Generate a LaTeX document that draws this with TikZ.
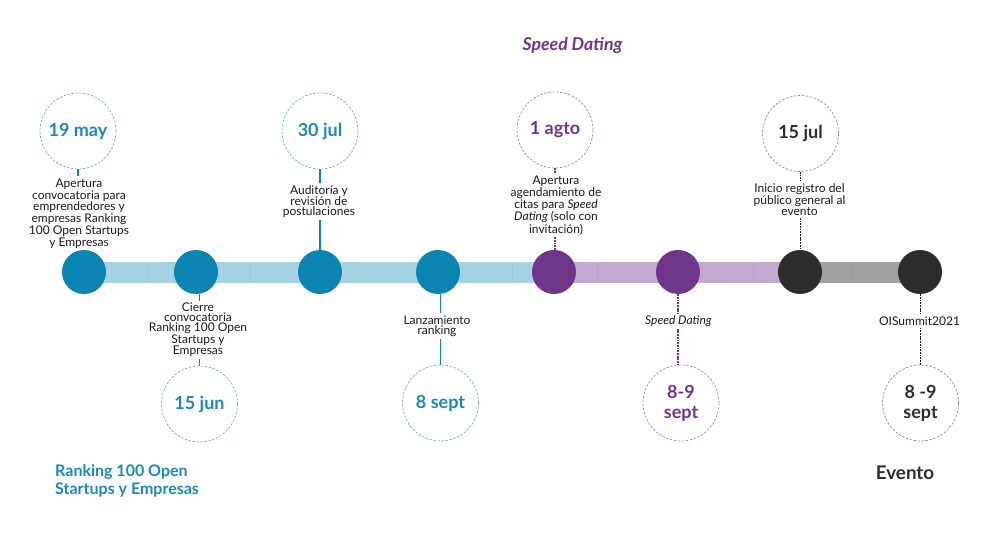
\documentclass[tikz,border=0pt]{standalone}
\usepackage{fontspec}
\setmainfont{Lato}
\definecolor{dotblue}{HTML}{0A84B1}
\definecolor{txtblue}{HTML}{1A8BB6}
\definecolor{barblue}{HTML}{A6D3E3}
\definecolor{ringblue}{HTML}{6DB3CF}
\definecolor{dotpurple}{HTML}{6E3589}
\definecolor{barpurple}{HTML}{C4A9CF}
\definecolor{ringpurple}{HTML}{A88AB8}
\definecolor{dotdark}{HTML}{2D2D2D}
\definecolor{bargray}{HTML}{A0A0A0}
\definecolor{ringgray}{HTML}{8E8E8E}
\definecolor{ink}{HTML}{1A1A1A}
\begin{document}
\begin{tikzpicture}[x=1pt,y=-1pt,
  ring/.style={circle,draw,line width=0.7pt,dash pattern=on 2.4pt off 1.6pt,
    minimum size=76pt,inner sep=0pt,align=center,
    font=\fontsize{18}{20}\selectfont\bfseries},
  dot/.style={circle,minimum size=44pt,inner sep=0pt},
  note/.style={align=center,inner sep=2pt,text=ink,
    font=\fontsize{12}{9.8}\selectfont},
  bluelink/.style={draw=dotblue,line width=1.8pt},
  dashlink/.style={line width=1.9pt,dash pattern=on 1.8pt off 0.9pt}]
   \useasboundingbox (0,0) rectangle (1000,534);
   % bar
   \fill [barblue] (84,262.5) rectangle (554,283.5);
   \fill [barpurple] (554,262.5) rectangle (800,283.5);
   \fill [bargray] (800,262.5) rectangle (920,283.5);
   \foreach \x in {147,250,512} \draw [barblue!95!black,line width=0.4pt] (\x,262.5)--(\x,283.5);
   \foreach \x in {597,753} \draw [barpurple!95!black,line width=0.4pt] (\x,262.5)--(\x,283.5);
   \draw [bargray!95!black,line width=0.4pt] (851,262.5)--(851,283.5);
   % dots on the bar
   \node [dot,fill=dotblue] (b1) at (84,272) {};
   \node [dot,fill=dotblue] (b2) at (196,272) {};
   \node [dot,fill=dotblue] (b3) at (320,272) {};
   \node [dot,fill=dotblue] (b4) at (438,272) {};
   \node [dot,fill=dotpurple] (b5) at (554,272) {};
   \node [dot,fill=dotpurple] (b6) at (678,272) {};
   \node [dot,fill=dotdark] (b7) at (800,272) {};
   \node [dot,fill=dotdark] (b8) at (920,272) {};
   % dates
   \node [ring,draw=ringblue,text=txtblue] (d1) at (78,131) {19 may};
   \node [ring,draw=ringblue,text=txtblue] (d2) at (199.5,404) {15 jun};
   \node [ring,draw=ringblue,text=txtblue] (d3) at (320,131) {30 jul};
   \node [ring,draw=ringblue,text=txtblue] (d4) at (440.5,403) {8 sept};
   \node [ring,draw=ringpurple,text=dotpurple] (d5) at (555,130) {1 agto};
   \node [ring,draw=ringpurple,text=dotpurple] (d6) at (681,403) {8-9\\sept};
   \node [ring,draw=ringgray,text=dotdark] (d7) at (800.5,133.5) {15 jul};
   \node [ring,draw=ringgray,text=dotdark] (d8) at (920.5,403) {8 -9\\sept};
   % notes
   \node [note] (l1) at (79,213.5) {Apertura\\convocatoria para\\emprendedores y\\empresas Ranking\\100 Open Startups\\y Empresas};
   \node [note] (l2) at (198,330) {Cierre\\convocatoria\\Ranking 100 Open\\Startups y\\Empresas};
   \node [note] (l3) at (319,201.5) {Auditoría y\\revisión de\\postulaciones};
   \node [note] (l4) at (437,326) {Lanzamiento\\ranking};
   \node [note] (l5) at (556,205.5) {Apertura\\agendamiento de\\citas para \textit{Speed}\\\textit{Dating} (solo con\\invitación)};
   \node [note] (l6) at (678.5,321) {\textit{Speed Dating}};
   \node [note] (l7) at (799.5,199.5) {Inicio registro del\\público general al\\evento};
   \node [note] (l8) at (919.5,321) {OISummit2021};
   % links
   \draw [bluelink] (d1.south) -- (l1.north -| d1.south);
   \draw [bluelink] (d3.south) -- (l3.north -| d3.south);
   \draw [bluelink] (l3.south -| d3.south) -- (b3.north -| d3.south);
   \draw [bluelink] (b2.south -| d2.north) -- (l2.north -| d2.north);
   \draw [bluelink] (l2.south -| d2.north) -- (d2.north);
   \draw [bluelink] (b4.south -| d4.north) -- (l4.north -| d4.north);
   \draw [bluelink] (l4.south -| d4.north) -- (d4.north);
   \draw [dashlink,dotpurple] (d5.south) -- (l5.north -| d5.south);
   \draw [dashlink,dotpurple] (l5.south -| d5.south) -- (b5.north -| d5.south);
   \draw [dashlink,dotpurple] (b6.south) -- (l6.north -| b6.south);
   \draw [dashlink,dotpurple] (l6.south -| b6.south) -- (d6.north -| b6.south);
   \draw [dashlink,ink] (d7.south) -- (l7.north -| d7.south);
   \draw [dashlink,ink] (l7.south -| d7.south) -- (b7.north -| d7.south);
   \draw [dashlink,ink] (b8.south -| d8.north) -- (l8.north -| d8.north);
   \draw [dashlink,ink] (l8.south -| d8.north) -- (d8.north);
   % titles
   \node [text=dotpurple,font=\fontsize{17.7}{20}\selectfont\bfseries\itshape] (t1) at (572.5,46) {Speed Dating};
   \node [text=txtblue,align=left,anchor=west,inner sep=0pt,font=\fontsize{16}{17.6}\selectfont\bfseries] (t2) at (55,481) {Ranking 100 Open\\Startups y Empresas};
   \node [text=dotdark,font=\fontsize{18.8}{20}\selectfont\bfseries] (t3) at (905,473) {Evento};
 \end{tikzpicture}
\end{document}
